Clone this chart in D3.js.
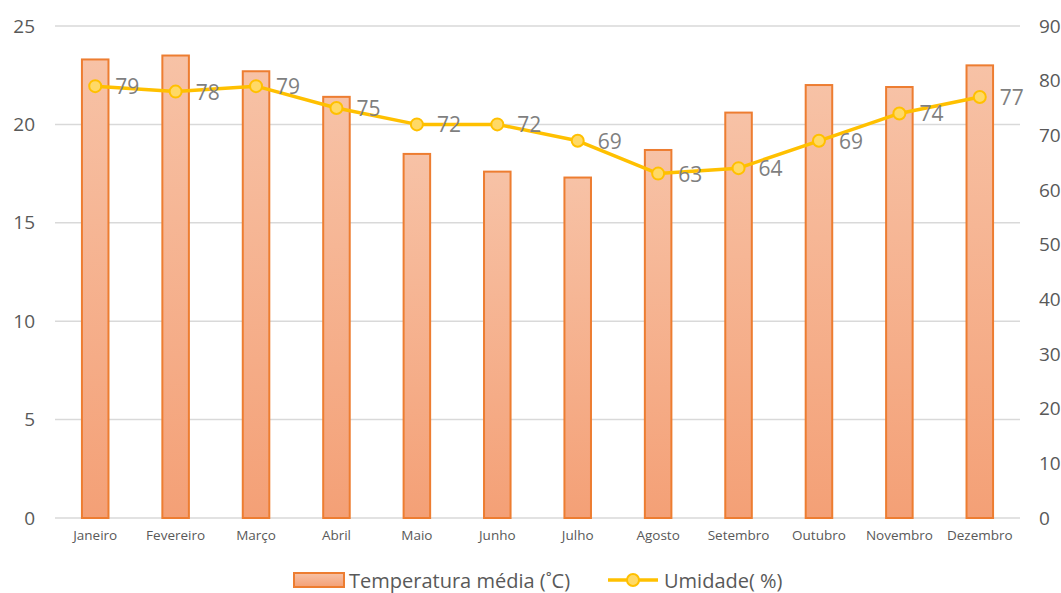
<!DOCTYPE html>
<html>
<head>
<meta charset="utf-8">
<script src="https://cdn.jsdelivr.net/npm/d3@7"></script>
<style>
  body { margin: 0; background: #fff; overflow: hidden; }
  text { font-family: "Open Sans", "Noto Sans", sans-serif; }
</style>
</head>
<body>
<div id="chart"></div>
<script>
// data
var months = ["Janeiro", "Fevereiro", "Março", "Abril", "Maio", "Junho", "Julho", "Agosto", "Setembro", "Outubro", "Novembro", "Dezembro"]
var temperature = [23.3, 23.5, 22.7, 21.4, 18.5, 17.6, 17.3, 18.7, 20.6, 22.0, 21.9, 23.0]
var humidity = [79, 78, 79, 75, 72, 72, 69, 63, 64, 69, 74, 77]
var leftTicks = [0, 5, 10, 15, 20, 25]
var rightTicks = [0, 10, 20, 30, 40, 50, 60, 70, 80, 90]

var width = 1061
var height = 593
var margin = { top: 26, right: 41, bottom: 75, left: 55 }
var plotW = width - margin.left - margin.right
var plotH = height - margin.top - margin.bottom

var svg = d3.select("#chart")
    .append("svg")
    .attr("width", width)
    .attr("height", height)
    .style("display", "block")

var defs = svg.append("defs")
var grad = defs.append("linearGradient")
    .attr("id", "barFill")
    .attr("x1", 0).attr("y1", 0).attr("x2", 0).attr("y2", 1)
grad.append("stop").attr("offset", "0%").attr("stop-color", "#f7c2a6")
grad.append("stop").attr("offset", "100%").attr("stop-color", "#f4a076")

var g = svg.append("g").attr("transform", "translate(" + margin.left + "," + margin.top + ")")

var x = d3.scaleBand()
    .domain(months)
    .range([0, plotW])
    .paddingInner(0.67)
    .paddingOuter(0.335)

var yLeft = d3.scaleLinear().domain([0, 25]).range([plotH, 0])
var yRight = d3.scaleLinear().domain([0, 90]).range([plotH, 0])

// gridlines
g.append("g")
    .selectAll("line")
    .data(leftTicks)
    .enter()
    .append("line")
    .attr("x1", 0)
    .attr("x2", plotW)
    .attr("y1", d => yLeft(d))
    .attr("y2", d => yLeft(d))
    .attr("stroke", "#d9d9d9")
    .attr("stroke-width", 1.5)

// left axis
var leftAxis = g.append("g")
    .call(d3.axisLeft(yLeft).tickValues(leftTicks).tickSize(0).tickPadding(20))
leftAxis.select(".domain").remove()
leftAxis.selectAll("text")
    .attr("fill", "#595959")
    .style("font-size", "19px")

// right axis
var rightAxis = g.append("g")
    .attr("transform", "translate(" + plotW + ",0)")
    .call(d3.axisRight(yRight).tickValues(rightTicks).tickSize(0).tickPadding(19))
rightAxis.select(".domain").remove()
rightAxis.selectAll("text")
    .attr("fill", "#595959")
    .style("font-size", "19px")

// category axis
var bottomAxis = g.append("g")
    .attr("transform", "translate(0," + plotH + ")")
    .call(d3.axisBottom(x).tickSize(0).tickPadding(12))
bottomAxis.select(".domain").remove()
bottomAxis.selectAll("text")
    .attr("fill", "#595959")
    .style("font-size", "13.5px")

// bars
g.append("g")
    .selectAll("rect")
    .data(temperature)
    .enter()
    .append("rect")
    .attr("x", (d, i) => x(months[i]))
    .attr("y", d => yLeft(d))
    .attr("width", x.bandwidth())
    .attr("height", d => plotH - yLeft(d))
    .attr("fill", "url(#barFill)")
    .attr("stroke", "#ed7d31")
    .attr("stroke-width", 2)

// humidity line
var cx = (d, i) => x(months[i]) + x.bandwidth() / 2
var line = d3.line()
    .x(cx)
    .y(d => yRight(d))

g.append("path")
    .datum(humidity)
    .attr("d", line)
    .attr("fill", "none")
    .attr("stroke", "#ffc000")
    .attr("stroke-width", 3.5)
    .attr("stroke-linejoin", "round")

g.append("g")
    .selectAll("circle")
    .data(humidity)
    .enter()
    .append("circle")
    .attr("cx", cx)
    .attr("cy", d => yRight(d))
    .attr("r", 6)
    .attr("fill", "#ffd966")
    .attr("stroke", "#ffc000")
    .attr("stroke-width", 2)

g.append("g")
    .selectAll("text")
    .data(humidity)
    .enter()
    .append("text")
    .attr("x", (d, i) => cx(d, i) + 20)
    .attr("y", d => yRight(d) + 8)
    .attr("fill", "#7f7f7f")
    .style("font-size", "21px")
    .text(d => d)

// legend
var legend = svg.append("g")
legend.append("rect")
    .attr("x", 294)
    .attr("y", 573)
    .attr("width", 50)
    .attr("height", 14)
    .attr("fill", "url(#barFill)")
    .attr("stroke", "#ed7d31")
    .attr("stroke-width", 2)
legend.append("text")
    .attr("x", 349)
    .attr("y", 588)
    .attr("fill", "#595959")
    .style("font-size", "20px")
    .text("Temperatura média (˚C)")

legend.append("line")
    .attr("x1", 608)
    .attr("x2", 658)
    .attr("y1", 580)
    .attr("y2", 580)
    .attr("stroke", "#ffc000")
    .attr("stroke-width", 3.5)
legend.append("circle")
    .attr("cx", 633)
    .attr("cy", 580)
    .attr("r", 6)
    .attr("fill", "#ffd966")
    .attr("stroke", "#ffc000")
    .attr("stroke-width", 2)
legend.append("text")
    .attr("x", 664)
    .attr("y", 588)
    .attr("fill", "#595959")
    .style("font-size", "20px")
    .text("Umidade( %)")
</script>
</body>
</html>
